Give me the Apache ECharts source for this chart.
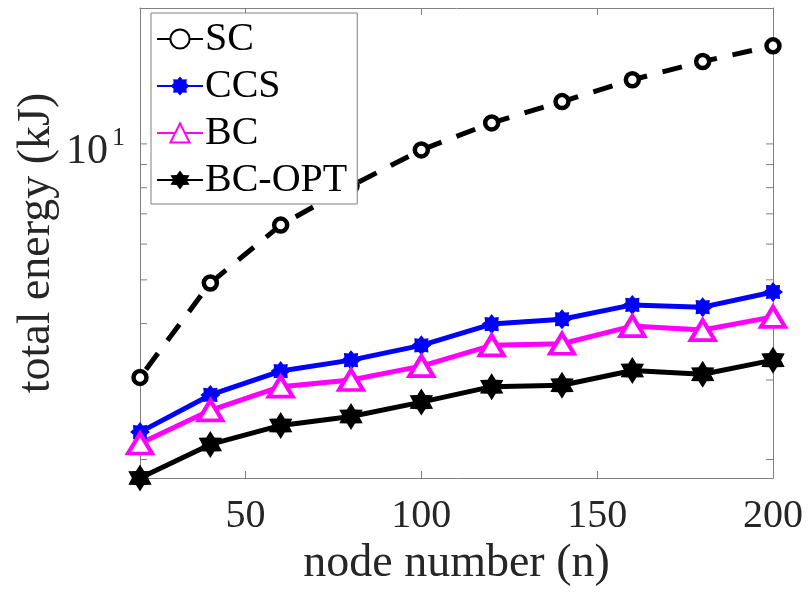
<!DOCTYPE html>
<html>
<head>
<meta charset="utf-8">
<script src="https://cdn.jsdelivr.net/npm/echarts@6/dist/echarts.min.js"></script>
<style>
  html, body { margin: 0; padding: 0; background: #fff; }
  #main { width: 808px; height: 596px; }
</style>
</head>
<body>
<div id="main"></div>
<script>
// node numbers (x)
var nodeNumbers = [20, 40, 60, 80, 100, 120, 140, 160, 180, 200];
// total energy (kJ)
var scEnergy = [3.04, 4.92, 6.61, 8.07, 9.70, 11.13, 12.41, 13.87, 15.22, 16.49];
var ccsEnergy = [2.30, 2.78, 3.14, 3.32, 3.58, 3.99, 4.09, 4.40, 4.35, 4.70];
var bcEnergy = [2.17, 2.57, 2.90, 3.00, 3.22, 3.58, 3.61, 3.95, 3.87, 4.14];
var bcOptEnergy = [1.82, 2.16, 2.38, 2.49, 2.68, 2.90, 2.92, 3.15, 3.09, 3.32];

var xTicks = [50, 100, 150, 200];
var yTicks = [2, 3, 4, 5, 6, 7, 8, 9, 10]; // log minor ticks + 10^1
var yMajor = 10; // the one labelled decade, 10^1

var xMin = 20, xMax = 200, yMin = 1.82, yMax = 20;
var axisGrey = '#808080';
var textGrey = '#262626';
var serif = 'Liberation Serif, Times New Roman, serif';

// n-pointed star as an svg path (used for the * and hexagram markers)
function starPath(n, inner) {
	var pts = [];
	for (var i = 0; i < 2 * n; i++) {
		var r = (i % 2) ? inner : 1;
		var a = -Math.PI / 2 + i * Math.PI / n;
		pts.push((r * Math.cos(a)).toFixed(3) + ',' + (r * Math.sin(a)).toFixed(3));
	}
	return 'path://M' + pts.join('L') + 'Z';
}

function pairs(ys) {
	return nodeNumbers.map(function (x, i) { return [x, ys[i]]; });
}

var option = {
	backgroundColor: '#fff',
	animation: false,
	grid: { left: 140, right: 35, top: 8, bottom: 118 },
	legend: {
		orient: 'vertical',
		left: 151,
		top: 13,
		padding: [6, 10, 4, 5],
		itemGap: 7,
		itemWidth: 46,
		itemHeight: 24,
		backgroundColor: '#fff',
		borderColor: axisGrey,
		borderWidth: 1,
		lineStyle: { type: 'solid' },
		textStyle: { fontFamily: serif, fontSize: 40, color: '#000', lineHeight: 40, padding: [0, 0, 0, -3] },
		data: ['SC', 'CCS', 'BC', 'BC-OPT']
	},
	xAxis: [{
		type: 'value',
		min: xMin,
		max: xMax,
		name: 'node number (n)',
		nameLocation: 'middle',
		nameGap: 58,
		nameTextStyle: { fontFamily: serif, fontSize: 46, color: textGrey },
		axisLine: { lineStyle: { color: axisGrey, width: 1 } },
		axisTick: { inside: true, length: 7, customValues: xTicks, lineStyle: { color: axisGrey } },
		axisLabel: { customValues: xTicks, margin: 18, fontFamily: serif, fontSize: 40, color: textGrey },
		splitLine: { show: false }
	}, {
		type: 'value',
		position: 'top',
		min: xMin,
		max: xMax,
		axisLine: { lineStyle: { color: axisGrey, width: 1 } },
		axisTick: { inside: true, length: 7, customValues: xTicks, lineStyle: { color: axisGrey } },
		axisLabel: { show: false },
		splitLine: { show: false }
	}],
	yAxis: [{
		type: 'log',
		min: yMin,
		max: yMax,
		name: 'total energy (kJ)',
		nameLocation: 'middle',
		nameGap: 80,
		nameRotate: 90,
		nameTextStyle: { fontFamily: serif, fontSize: 46, color: textGrey },
		axisLine: { show: true, lineStyle: { color: axisGrey, width: 1 } },
		axisTick: { show: false },
		axisLabel: { show: false },
		splitLine: { show: false }
	}, {
		type: 'log',
		position: 'right',
		min: yMin,
		max: yMax,
		axisLine: { show: true, lineStyle: { color: axisGrey, width: 1 } },
		axisTick: { show: false },
		axisLabel: { show: false },
		splitLine: { show: false }
	}],
	series: [{
		name: 'yticks',
		type: 'custom',
		silent: true,
		z: 1,
		data: yTicks.map(function (v) { return [xMin, v]; }),
		encode: { x: 0, y: 1 },
		renderItem: function (params, api) {
			var y = api.coord([xMin, api.value(1)])[1];
			var cs = params.coordSys;
			var st = { stroke: axisGrey, lineWidth: 1 };
			return {
				type: 'group',
				children: [
					{ type: 'line', shape: { x1: cs.x, y1: y, x2: cs.x + 7, y2: y }, style: st },
					{ type: 'line', shape: { x1: cs.x + cs.width, y1: y, x2: cs.x + cs.width - 7, y2: y }, style: st }
				]
			};
		}
	}, {
		name: 'SC',
		type: 'line',
		clip: false,
		z: 3,
		data: pairs(scEnergy),
		symbol: 'circle',
		symbolSize: 13,
		lineStyle: { color: '#000', width: 5, type: [20, 16], dashOffset: -10 },
		itemStyle: { color: '#fff', borderColor: '#000', borderWidth: 4.5 }
	}, {
		name: 'CCS',
		type: 'line',
		clip: false,
		z: 3,
		data: pairs(ccsEnergy),
		symbol: starPath(8, 0.72),
		symbolSize: 20,
		lineStyle: { color: '#0000ff', width: 5 },
		itemStyle: { color: '#0000ff' }
	}, {
		name: 'BC',
		type: 'line',
		clip: false,
		z: 3,
		data: pairs(bcEnergy),
		symbol: 'triangle',
		symbolSize: [24, 20],
		lineStyle: { color: '#ff00ff', width: 5 },
		itemStyle: { color: '#fff', borderColor: '#ff00ff', borderWidth: 4 }
	}, {
		name: 'BC-OPT',
		type: 'line',
		clip: false,
		z: 3,
		data: pairs(bcOptEnergy),
		symbol: starPath(6, 0.6),
		symbolKeepAspect: true,
		symbolSize: 27,
		lineStyle: { color: '#000', width: 5 },
		itemStyle: { color: '#000' }
	}]
};

var myChart = echarts.init(document.getElementById('main'), null, { renderer: 'canvas' });
myChart.setOption(option);

// 10^1 tick label, placed at the log axis position of 10
var p = myChart.convertToPixel({ xAxisIndex: 0, yAxisIndex: 0 }, [xMin, yMajor]);
myChart.setOption({
	graphic: [{
		type: 'text',
		x: p[0] - 32,
		y: p[1] + 8,
		style: { text: '10', fontFamily: serif, fontSize: 42, fill: textGrey, align: 'right', verticalAlign: 'middle' }
	}, {
		type: 'text',
		x: p[0] - 28,
		y: p[1] - 6,
		style: { text: '1', fontFamily: serif, fontSize: 26, fill: textGrey, align: 'left', verticalAlign: 'middle' }
	}]
});
</script>
</body>
</html>
